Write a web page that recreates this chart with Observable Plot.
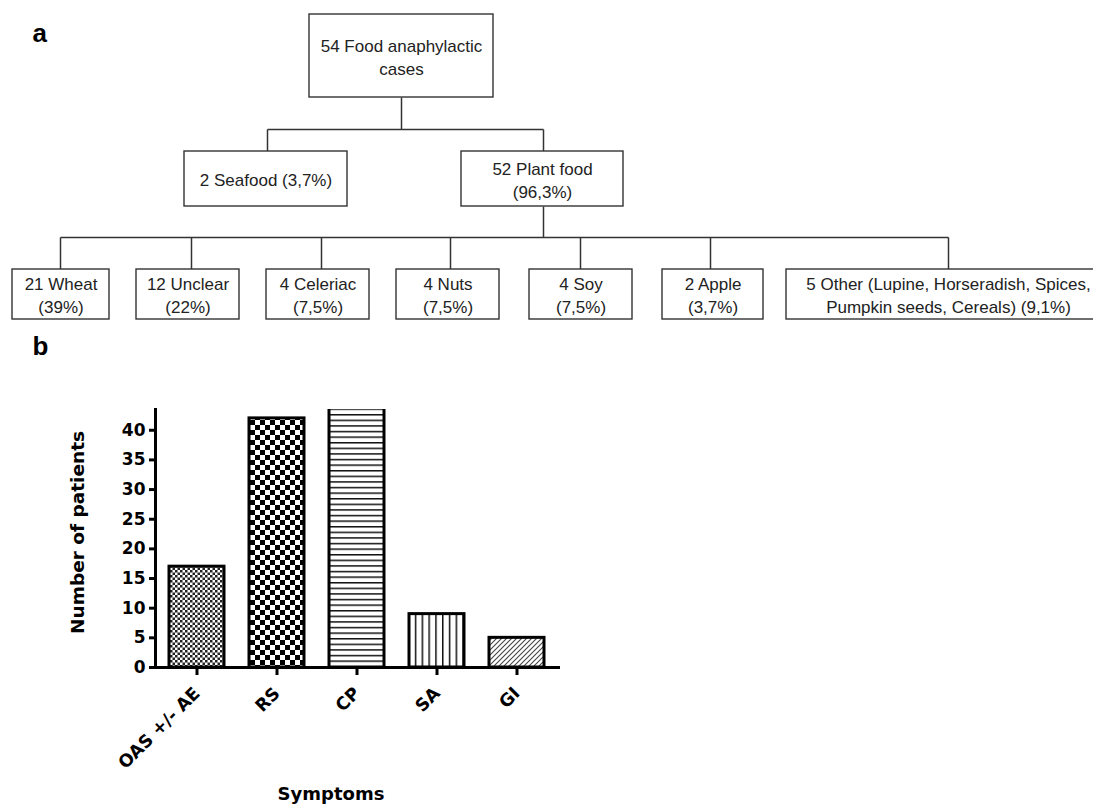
<!DOCTYPE html>
<html><head><meta charset="utf-8">
<script src="https://cdn.jsdelivr.net/npm/d3@7"></script>
<script src="https://cdn.jsdelivr.net/npm/@observablehq/plot@0.6"></script>
<style>
html,body{margin:0;padding:0;background:#fff;overflow:hidden;}
#chart svg{display:block;}
</style></head><body><div id="chart"></div>
<script>
// ---------- Panel a data ----------
const rootLabel = "54 Food anaphylactic\ncases";
const groupLabels = ["2 Seafood (3,7%)", "52 Plant food\n(96,3%)"];
const plantLabels = ["21 Wheat\n(39%)", "12 Unclear\n(22%)", "4 Celeriac\n(7,5%)", "4 Nuts\n(7,5%)", "4 Soy\n(7,5%)", "2 Apple\n(3,7%)", "5 Other (Lupine, Horseradish, Spices,\nPumpkin seeds, Cereals) (9,1%)"];

// ---------- Panel b data ----------
const symptoms = ["OAS +/- AE", "RS", "CP", "SA", "GI"];
const patients = [17, 42, 47, 9, 5];
const yTicks = [0, 5, 10, 15, 20, 25, 30, 35, 40];
const patternIds = ["pOAS", "pRS", "pCP", "pSA", "pGI"];

// ---------- Panel a layout (diagram geometry) ----------
const rootBox = {x1: 309, x2: 493, y1: 14, y2: 97};
const groupBoxX = [[184, 347], [461, 623]];
const groupBoxY = [151, 206];
const leafBoxX = [[12, 109], [136, 239], [266, 369], [396, 499], [529, 632], [662, 763], [786, 1110]];
const leafBoxY = [269, 319];
const rootStemX = 401, bus1Y = 129, groupStemX = [267, 543];
const bus2Y = 237, leafStemX = [60, 191, 321, 450, 580, 710, 948];

const nodes = [
  {label: rootLabel, ...rootBox},
  ...groupLabels.map((l, i) => ({label: l, x1: groupBoxX[i][0], x2: groupBoxX[i][1], y1: groupBoxY[0], y2: groupBoxY[1]})),
  ...plantLabels.map((l, i) => ({label: l, x1: leafBoxX[i][0], x2: leafBoxX[i][1], y1: leafBoxY[0], y2: leafBoxY[1]}))
];
const links = [
  {x1: rootStemX, y1: rootBox.y2, x2: rootStemX, y2: bus1Y},
  {x1: groupStemX[0], y1: bus1Y, x2: groupStemX[1], y2: bus1Y},
  ...groupStemX.map(x => ({x1: x, y1: bus1Y, x2: x, y2: groupBoxY[0]})),
  {x1: groupStemX[1], y1: groupBoxY[1], x2: groupStemX[1], y2: bus2Y},
  {x1: leafStemX[0], y1: bus2Y, x2: leafStemX[leafStemX.length - 1], y2: bus2Y},
  ...leafStemX.map(x => ({x1: x, y1: bus2Y, x2: x, y2: leafBoxY[0]}))
];

const A = Plot.plot({
  width: 1093, height: 330, margin: 0,
  style: {fontFamily: "'Liberation Sans', Arial, sans-serif", background: "white", overflow: "hidden"},
  x: {type: "linear", domain: [0, 1093], range: [0, 1093], axis: null},
  y: {type: "linear", domain: [0, 330], range: [0, 330], axis: null},
  marks: [
    Plot.link(links, {x1: "x1", y1: "y1", x2: "x2", y2: "y2", stroke: "#333", strokeWidth: 1.5}),
    Plot.rect(nodes, {x1: "x1", x2: "x2", y1: "y1", y2: "y2", fill: "white", stroke: "#333", strokeWidth: 1.4}),
    Plot.text(nodes, {x: d => (d.x1 + d.x2) / 2, y: d => (d.y1 + d.y2) / 2, text: "label",
      fontSize: 17, lineHeight: 1.35, fill: "#222", textAnchor: "middle", lineAnchor: "middle"}),
    Plot.text(["a"], {frameAnchor: "top-left", dx: 32, dy: 23, lineAnchor: "top", textAnchor: "start",
      fontSize: 26, fontWeight: "bold", fontFamily: "'Liberation Sans', Arial, sans-serif", fill: "black"})
  ]
});

const barData = symptoms.map((s, i) => ({s, v: patients[i], p: `url(#${patternIds[i]})`}));
const axisFont = "'DejaVu Sans', Verdana, sans-serif";

const B = Plot.plot({
  width: 1093, height: 475,
  marginLeft: 155, marginRight: 535, marginTop: 79, marginBottom: 138,
  style: {fontFamily: axisFont, background: "white", color: "black"},
  x: {domain: symptoms, paddingInner: 0.31, paddingOuter: 0.155, axis: null},
  y: {domain: [0, 43.5], axis: null},
  color: {type: "identity"},
  marks: [
    Plot.barY(barData, {x: "s", y: "v", fill: "p", stroke: "black", strokeWidth: 3, clip: true}),
    Plot.frame({anchor: "left", stroke: "black", strokeWidth: 3}),
    Plot.frame({anchor: "bottom", stroke: "black", strokeWidth: 3}),
    Plot.axisY({ticks: yTicks, tickSize: 6, tickPadding: 4, strokeWidth: 3, fontSize: 17, fontWeight: "bold", label: null, fontFamily: axisFont}),
    Plot.axisX({tickSize: 8, strokeWidth: 3, tickRotate: -45, tickPadding: 15, fontSize: 17.5, fontWeight: "bold", label: null, fontFamily: axisFont}),
    Plot.text(["Number of patients"], {frameAnchor: "left", rotate: -90, dx: -77, dy: -6, textAnchor: "middle", fontSize: 18.5, fontWeight: "bold", fontFamily: axisFont, fill: "black"}),
    Plot.text(["Symptoms"], {frameAnchor: "bottom", dx: -26, dy: 132, textAnchor: "middle", fontSize: 18, fontWeight: "bold", fontFamily: axisFont, fill: "black"}),
    Plot.text(["b"], {frameAnchor: "top-left", dx: -123, dy: -73, lineAnchor: "top", textAnchor: "start",
      fontSize: 26, fontWeight: "bold", fontFamily: "'Liberation Sans', Arial, sans-serif", fill: "black"})
  ]
});

// patterns
const defs = d3.select(B).insert("defs", ":first-child");
function pat(id, w, h) {
  const p = defs.append("pattern").attr("id", id).attr("patternUnits", "userSpaceOnUse").attr("width", w).attr("height", h);
  p.append("rect").attr("width", w).attr("height", h).attr("fill", "white");
  return p;
}
let p = pat("pOAS", 5, 5);
p.append("rect").attr("width", 2.5).attr("height", 2.5).attr("fill", "#222");
p.append("rect").attr("x", 2.5).attr("y", 2.5).attr("width", 2.5).attr("height", 2.5).attr("fill", "#222");
p = pat("pRS", 10, 10);
p.append("rect").attr("width", 5).attr("height", 5).attr("fill", "#000");
p.append("rect").attr("x", 5).attr("y", 5).attr("width", 5).attr("height", 5).attr("fill", "#000");
p = pat("pCP", 10, 5.6);
p.append("rect").attr("width", 10).attr("height", 1.5).attr("fill", "#111");
p = pat("pSA", 6.8, 10);
p.append("rect").attr("width", 1.5).attr("height", 10).attr("fill", "#111");
p = pat("pGI", 5, 5);
p.append("path").attr("d", "M-1,6 L6,-1 M-1,1 L1,-1 M4,6 L6,4").attr("stroke", "#444").attr("stroke-width", 1.1);

document.getElementById("chart").append(A, B);
</script></body></html>
